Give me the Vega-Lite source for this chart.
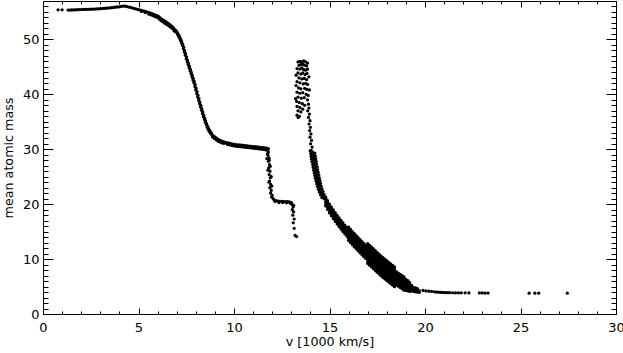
{
"$schema": "https://vega.github.io/schema/vega-lite/v6.json",
"width": 573, "height": 313,
"autosize": {"type": "none"},
"padding": {"left": 43, "top": 1, "right": 7, "bottom": 39},
"background": "white",
"config": {
 "view": {"stroke": "#000", "strokeWidth": 1},
 "axis": {"domain": false, "grid": false, "tickColor": "#000", "tickWidth": 1, "labelFont": "DejaVu Sans", "labelFontSize": 13, "labelColor": "#000", "titleFont": "DejaVu Sans", "titleFontSize": 12.7, "titleFontWeight": "normal", "titleColor": "#000", "labelOverlap": false, "labelFlush": false}
},
"data": {"values": [
{"v":0.79,"m":55.4},{"v":1.0,"m":55.4},{"v":1.31,"m":55.35},{"v":1.4,"m":55.36},{"v":1.5,"m":55.37},{"v":1.6,"m":55.38},{"v":1.7,"m":55.4},{"v":1.8,"m":55.42},{"v":1.9,"m":55.44},{"v":2.0,"m":55.45},{"v":2.1,"m":55.46},{"v":2.2,"m":55.47},{"v":2.3,"m":55.48},{"v":2.4,"m":55.49},{"v":2.5,"m":55.5},{"v":2.6,"m":55.52},{"v":2.7,"m":55.54},{"v":2.8,"m":55.56},{"v":2.9,"m":55.58},{"v":3.0,"m":55.6},{"v":3.1,"m":55.63},{"v":3.2,"m":55.66},{"v":3.3,"m":55.69},{"v":3.4,"m":55.72},{"v":3.5,"m":55.75},{"v":3.6,"m":55.79},{"v":3.7,"m":55.83},{"v":3.8,"m":55.87},{"v":3.9,"m":55.91},{"v":4.0,"m":55.95},{"v":4.1,"m":56.02},{"v":4.2,"m":56.08},{"v":4.3,"m":56.05},{"v":4.4,"m":55.98},{"v":4.5,"m":55.9},{"v":4.6,"m":55.82},{"v":4.7,"m":55.72},{"v":4.8,"m":55.62},{"v":4.9,"m":55.52},{"v":5.0,"m":55.42},{"v":5.1,"m":55.34},{"v":5.2,"m":55.25},{"v":5.3,"m":55.15},{"v":5.4,"m":55.05},{"v":5.5,"m":54.95},{"v":5.6,"m":54.83},{"v":5.7,"m":54.7},{"v":5.8,"m":54.57},{"v":5.9,"m":54.43},{"v":6.0,"m":54.28},
{"v":5.15,"m":55.1},{"v":5.35,"m":54.9},{"v":5.55,"m":54.6},{"v":5.65,"m":54.48},{"v":5.75,"m":54.35},{"v":5.85,"m":54.2},{"v":5.95,"m":54.05},
{"v":6.05,"m":54.15},{"v":6.1,"m":54.0},{"v":6.15,"m":53.85},{"v":6.2,"m":53.72},{"v":6.25,"m":53.6},{"v":6.3,"m":53.5},{"v":6.35,"m":53.38},{"v":6.4,"m":53.27},{"v":6.45,"m":53.15},{"v":6.5,"m":53.03},{"v":6.55,"m":52.92},{"v":6.6,"m":52.8},{"v":6.65,"m":52.65},{"v":6.7,"m":52.5},{"v":6.75,"m":52.35},{"v":6.8,"m":52.2},{"v":6.85,"m":51.98},
{"v":6.075,"m":53.73},{"v":6.175,"m":53.43},{"v":6.275,"m":53.2},{"v":6.375,"m":52.97},{"v":6.475,"m":52.74},{"v":6.575,"m":52.5},{"v":6.675,"m":52.23},{"v":6.775,"m":51.93},{"v":6.875,"m":51.5},
{"v":6.9,"m":51.75},{"v":6.965,"m":51.61},{"v":6.95,"m":51.48},{"v":7.015,"m":51.34},{"v":7.0,"m":51.2},{"v":7.065,"m":51.05},{"v":7.05,"m":50.9},{"v":7.115,"m":50.75},{"v":7.1,"m":50.6},{"v":7.165,"m":50.4},{"v":7.15,"m":50.2},{"v":7.215,"m":50.0},{"v":7.2,"m":49.8},{"v":7.265,"m":49.58},{"v":7.25,"m":49.35},{"v":7.315,"m":49.13},{"v":7.3,"m":48.9},{"v":7.365,"m":48.6},{"v":7.35,"m":48.3},{"v":7.415,"m":48.0},{"v":7.4,"m":47.7},{"v":7.465,"m":47.4},{"v":7.45,"m":47.1},{"v":7.515,"m":46.8},{"v":7.5,"m":46.5},{"v":7.565,"m":46.23},{"v":7.55,"m":45.95},{"v":7.615,"m":45.68},{"v":7.6,"m":45.4},{"v":7.665,"m":45.13},{"v":7.65,"m":44.85},{"v":7.715,"m":44.58},{"v":7.7,"m":44.3},{"v":7.765,"m":44.03},{"v":7.75,"m":43.75},{"v":7.815,"m":43.48},{"v":7.8,"m":43.2},{"v":7.865,"m":42.93},{"v":7.85,"m":42.65},{"v":7.915,"m":42.38},{"v":7.9,"m":42.1},{"v":7.965,"m":41.78},{"v":7.95,"m":41.45},{"v":8.015,"m":41.13},{"v":8.0,"m":40.8},{"v":8.065,"m":40.48},{"v":8.05,"m":40.15},{"v":8.115,"m":39.83},{"v":8.1,"m":39.5},{"v":8.165,"m":39.2},{"v":8.15,"m":38.9},{"v":8.215,"m":38.6},{"v":8.2,"m":38.3},{"v":8.265,"m":38.0},{"v":8.25,"m":37.7},{"v":8.315,"m":37.4},{"v":8.3,"m":37.1},{"v":8.365,"m":36.8},{"v":8.35,"m":36.5},{"v":8.415,"m":36.2},{"v":8.4,"m":35.9},{"v":8.465,"m":35.65},{"v":8.45,"m":35.4},{"v":8.515,"m":35.15},{"v":8.5,"m":34.9},{"v":8.565,"m":34.68},{"v":8.55,"m":34.45},{"v":8.615,"m":34.23},{"v":8.6,"m":34.0},{"v":8.665,"m":33.83},{"v":8.65,"m":33.65},{"v":8.715,"m":33.48},{"v":8.7,"m":33.3},{"v":8.765,"m":33.18},{"v":8.75,"m":33.05},{"v":8.815,"m":32.93},{"v":8.8,"m":32.8},
{"v":8.85,"m":32.62},{"v":8.9,"m":32.5},{"v":8.95,"m":32.35},{"v":9.0,"m":32.2},{"v":9.05,"m":32.08},{"v":9.1,"m":31.95},{"v":9.15,"m":31.82},{"v":9.2,"m":31.7},{"v":9.25,"m":31.63},{"v":9.3,"m":31.55},{"v":9.35,"m":31.48},{"v":9.4,"m":31.4},{"v":9.45,"m":31.35},{"v":9.5,"m":31.3},
{"v":8.875,"m":32.25},{"v":8.975,"m":31.95},{"v":9.075,"m":31.7},{"v":9.175,"m":31.45},{"v":9.275,"m":31.3},{"v":9.375,"m":31.15},{"v":9.475,"m":31.05},
{"v":9.6,"m":31.2},{"v":9.7,"m":31.15},{"v":9.8,"m":31.08},{"v":9.9,"m":31.0},{"v":10.0,"m":30.9},{"v":10.1,"m":30.86},{"v":10.2,"m":30.82},{"v":10.3,"m":30.78},{"v":10.4,"m":30.74},{"v":10.5,"m":30.7},{"v":10.6,"m":30.66},{"v":10.7,"m":30.62},{"v":10.8,"m":30.58},{"v":10.9,"m":30.54},{"v":11.0,"m":30.5},{"v":11.1,"m":30.46},{"v":11.2,"m":30.42},{"v":11.3,"m":30.38},{"v":11.4,"m":30.34},{"v":11.5,"m":30.3},{"v":11.6,"m":30.25},{"v":11.7,"m":30.2},{"v":11.8,"m":30.1},
{"v":9.65,"m":30.88},{"v":9.75,"m":30.8},{"v":9.85,"m":30.74},{"v":9.95,"m":30.65},{"v":10.05,"m":30.58},{"v":10.15,"m":30.54},{"v":10.25,"m":30.5},{"v":10.35,"m":30.46},{"v":10.45,"m":30.42},{"v":10.55,"m":30.38},{"v":10.65,"m":30.34},{"v":10.75,"m":30.3},{"v":10.85,"m":30.26},{"v":10.95,"m":30.22},{"v":11.05,"m":30.18},{"v":11.15,"m":30.14},{"v":11.25,"m":30.1},{"v":11.35,"m":30.06},{"v":11.45,"m":30.02},{"v":11.55,"m":29.96},{"v":11.65,"m":29.9},{"v":11.75,"m":29.8},
{"v":11.8,"m":29.5},{"v":11.78,"m":28.9},{"v":11.84,"m":28.4},{"v":11.8,"m":27.8},{"v":11.86,"m":27.2},{"v":11.82,"m":26.6},{"v":11.88,"m":26.0},{"v":11.84,"m":25.4},{"v":11.9,"m":24.8},{"v":11.86,"m":24.2},{"v":11.92,"m":23.6},{"v":11.88,"m":23.0},{"v":11.95,"m":22.5},{"v":11.92,"m":22.0},{"v":12.0,"m":21.6},{"v":11.97,"m":21.3},{"v":12.05,"m":21.0},{"v":11.75,"m":29.2},{"v":11.85,"m":28.0},{"v":11.9,"m":26.9},{"v":11.95,"m":25.0},{"v":11.98,"m":23.3},{"v":11.72,"m":28.3},{"v":11.78,"m":26.2},{"v":11.83,"m":24.0},
{"v":12.1,"m":20.8},{"v":12.2,"m":20.65},{"v":12.3,"m":20.55},{"v":12.4,"m":20.5},{"v":12.5,"m":20.5},{"v":12.6,"m":20.48},{"v":12.7,"m":20.45},{"v":12.8,"m":20.45},{"v":12.9,"m":20.4},{"v":13.0,"m":20.3},{"v":12.15,"m":20.5},{"v":12.35,"m":20.3},{"v":12.55,"m":20.3},{"v":12.75,"m":20.25},{"v":12.95,"m":20.15},
{"v":13.05,"m":19.9},{"v":13.1,"m":19.5},{"v":13.05,"m":19.0},{"v":13.12,"m":18.6},{"v":13.08,"m":18.0},{"v":13.15,"m":17.3},{"v":13.1,"m":16.6},{"v":13.15,"m":15.6},{"v":13.2,"m":14.3},{"v":13.28,"m":14.1},{"v":13.12,"m":19.8},
{"v":13.35,"m":45.9},{"v":13.45,"m":46.0},{"v":13.55,"m":45.9},{"v":13.65,"m":46.1},{"v":13.75,"m":45.9},{"v":13.85,"m":45.7},{"v":13.4,"m":45.3},{"v":13.5,"m":45.4},{"v":13.6,"m":45.5},{"v":13.7,"m":45.3},{"v":13.8,"m":45.2},{"v":13.3,"m":44.7},{"v":13.45,"m":44.6},{"v":13.55,"m":44.8},{"v":13.65,"m":44.5},{"v":13.75,"m":44.4},{"v":13.85,"m":44.6},{"v":13.35,"m":43.9},{"v":13.5,"m":43.7},{"v":13.6,"m":43.9},{"v":13.72,"m":43.6},{"v":13.82,"m":43.8},{"v":13.4,"m":43.0},{"v":13.55,"m":42.8},{"v":13.68,"m":42.9},{"v":13.8,"m":42.7},{"v":13.3,"m":42.3},{"v":13.45,"m":42.1},{"v":13.62,"m":41.9},{"v":13.75,"m":42.0},{"v":13.85,"m":41.8},{"v":13.38,"m":41.2},{"v":13.5,"m":41.0},{"v":13.7,"m":41.1},{"v":13.82,"m":40.9},{"v":13.3,"m":40.4},{"v":13.45,"m":40.2},{"v":13.6,"m":40.3},{"v":13.78,"m":40.0},{"v":13.88,"m":39.8},{"v":13.35,"m":39.5},{"v":13.52,"m":39.3},{"v":13.68,"m":39.4},{"v":13.85,"m":39.0},{"v":13.28,"m":38.7},{"v":13.42,"m":38.5},{"v":13.58,"m":38.3},{"v":13.9,"m":38.2},{"v":13.3,"m":37.8},{"v":13.45,"m":37.6},{"v":13.35,"m":37.0},{"v":13.5,"m":36.8},{"v":13.3,"m":36.2},{"v":13.42,"m":36.0},{"v":13.36,"m":35.8},{"v":13.25,"m":43.5},{"v":13.25,"m":41.6},{"v":13.22,"m":39.2},{"v":13.6,"m":37.3},{"v":13.7,"m":38.0},{"v":13.92,"m":43.2},{"v":13.95,"m":40.8},
{"v":13.92,"m":37.5},{"v":13.86,"m":37.0},{"v":13.95,"m":36.4},{"v":13.9,"m":35.8},{"v":13.98,"m":35.2},{"v":13.93,"m":34.6},{"v":14.0,"m":34.0},{"v":13.96,"m":33.4},{"v":14.03,"m":32.8},{"v":13.98,"m":32.2},{"v":14.06,"m":31.6},{"v":14.01,"m":31.0},{"v":14.09,"m":30.4},{"v":14.04,"m":29.8},
{"v":13.99,"m":29.7},{"v":14.11,"m":29.5},{"v":14.23,"m":29.3},{"v":14.02,"m":29.2},{"v":14.14,"m":29.0},{"v":14.26,"m":28.8},{"v":14.04,"m":28.7},{"v":14.16,"m":28.5},{"v":14.28,"m":28.3},{"v":14.06,"m":28.2},{"v":14.18,"m":28.0},{"v":14.3,"m":27.8},{"v":14.08,"m":27.7},{"v":14.2,"m":27.5},{"v":14.32,"m":27.3},{"v":14.12,"m":27.2},{"v":14.24,"m":27.0},{"v":14.36,"m":26.8},{"v":14.14,"m":26.7},{"v":14.26,"m":26.5},{"v":14.38,"m":26.3},{"v":14.17,"m":26.2},{"v":14.29,"m":26.0},{"v":14.41,"m":25.8},{"v":14.2,"m":25.7},{"v":14.32,"m":25.5},{"v":14.44,"m":25.3},{"v":14.23,"m":25.2},{"v":14.35,"m":25.0},{"v":14.47,"m":24.8},{"v":14.26,"m":24.7},{"v":14.38,"m":24.5},{"v":14.5,"m":24.3},{"v":14.29,"m":24.2},{"v":14.41,"m":24.0},{"v":14.53,"m":23.8},{"v":14.33,"m":23.7},{"v":14.45,"m":23.5},{"v":14.57,"m":23.3},{"v":14.37,"m":23.2},{"v":14.49,"m":23.0},{"v":14.61,"m":22.8},{"v":14.42,"m":22.7},{"v":14.54,"m":22.5},{"v":14.66,"m":22.3},{"v":14.47,"m":22.2},{"v":14.59,"m":22.0},{"v":14.71,"m":21.8},{"v":14.53,"m":21.7},{"v":14.65,"m":21.5},{"v":14.77,"m":21.3},{"v":14.6,"m":21.2},{"v":14.72,"m":21.0},{"v":14.84,"m":20.8},
{"v":14.8,"m":19.68},{"v":14.8,"m":20.08},{"v":14.8,"m":20.48},{"v":14.8,"m":20.88},{"v":14.8,"m":21.28},
{"v":14.9,"m":19.04},{"v":14.9,"m":19.44},{"v":14.9,"m":19.84},{"v":14.9,"m":20.24},{"v":14.9,"m":20.64},
{"v":15.0,"m":18.4},{"v":15.0,"m":18.8},{"v":15.0,"m":19.2},{"v":15.0,"m":19.6},{"v":15.0,"m":20.0},
{"v":15.1,"m":17.88},{"v":15.1,"m":18.28},{"v":15.1,"m":18.68},{"v":15.1,"m":19.08},{"v":15.1,"m":19.48},
{"v":15.2,"m":17.36},{"v":15.2,"m":17.76},{"v":15.2,"m":18.16},{"v":15.2,"m":18.56},{"v":15.2,"m":18.96},
{"v":15.3,"m":16.86},{"v":15.3,"m":17.26},{"v":15.3,"m":17.66},{"v":15.3,"m":18.06},{"v":15.3,"m":18.46},
{"v":15.4,"m":16.38},{"v":15.4,"m":16.78},{"v":15.4,"m":17.18},{"v":15.4,"m":17.58},{"v":15.4,"m":17.98},
{"v":15.5,"m":15.9},{"v":15.5,"m":16.3},{"v":15.5,"m":16.7},{"v":15.5,"m":17.1},{"v":15.5,"m":17.5},
{"v":15.6,"m":15.46},{"v":15.6,"m":15.86},{"v":15.6,"m":16.26},{"v":15.6,"m":16.66},{"v":15.6,"m":17.06},
{"v":15.7,"m":15.02},{"v":15.7,"m":15.42},{"v":15.7,"m":15.82},{"v":15.7,"m":16.22},{"v":15.7,"m":16.62},
{"v":15.8,"m":14.6},{"v":15.8,"m":15.0},{"v":15.8,"m":15.4},{"v":15.8,"m":15.8},{"v":15.8,"m":16.2},
{"v":15.9,"m":14.2},{"v":15.9,"m":14.6},{"v":15.9,"m":15.0},{"v":15.9,"m":15.4},{"v":15.9,"m":15.8},
{"v":16.0,"m":13.4},{"v":16.0,"m":13.8},{"v":16.0,"m":14.2},{"v":16.0,"m":14.6},{"v":16.0,"m":15.0},{"v":16.0,"m":15.4},{"v":16.0,"m":15.8},
{"v":16.1,"m":13.0},{"v":16.1,"m":13.4},{"v":16.1,"m":13.8},{"v":16.1,"m":14.2},{"v":16.1,"m":14.6},{"v":16.1,"m":15.0},{"v":16.1,"m":15.4},
{"v":16.2,"m":12.6},{"v":16.2,"m":13.0},{"v":16.2,"m":13.4},{"v":16.2,"m":13.8},{"v":16.2,"m":14.2},{"v":16.2,"m":14.6},{"v":16.2,"m":15.0},
{"v":16.3,"m":12.22},{"v":16.3,"m":12.62},{"v":16.3,"m":13.02},{"v":16.3,"m":13.42},{"v":16.3,"m":13.82},{"v":16.3,"m":14.22},{"v":16.3,"m":14.62},
{"v":16.4,"m":11.86},{"v":16.4,"m":12.26},{"v":16.4,"m":12.66},{"v":16.4,"m":13.06},{"v":16.4,"m":13.46},{"v":16.4,"m":13.86},{"v":16.4,"m":14.26},
{"v":16.5,"m":11.5},{"v":16.5,"m":11.9},{"v":16.5,"m":12.3},{"v":16.5,"m":12.7},{"v":16.5,"m":13.1},{"v":16.5,"m":13.5},{"v":16.5,"m":13.9},
{"v":16.6,"m":11.14},{"v":16.6,"m":11.54},{"v":16.6,"m":11.94},{"v":16.6,"m":12.34},{"v":16.6,"m":12.74},{"v":16.6,"m":13.14},{"v":16.6,"m":13.54},
{"v":16.7,"m":10.78},{"v":16.7,"m":11.18},{"v":16.7,"m":11.58},{"v":16.7,"m":11.98},{"v":16.7,"m":12.38},{"v":16.7,"m":12.78},{"v":16.7,"m":13.18},
{"v":16.8,"m":10.44},{"v":16.8,"m":10.84},{"v":16.8,"m":11.24},{"v":16.8,"m":11.64},{"v":16.8,"m":12.04},{"v":16.8,"m":12.44},{"v":16.8,"m":12.84},
{"v":16.9,"m":10.12},{"v":16.9,"m":10.52},{"v":16.9,"m":10.92},{"v":16.9,"m":11.32},{"v":16.9,"m":11.72},{"v":16.9,"m":12.12},{"v":16.9,"m":12.52},
{"v":17.0,"m":9.2},{"v":17.0,"m":9.6},{"v":17.0,"m":10.0},{"v":17.0,"m":10.4},{"v":17.0,"m":10.8},{"v":17.0,"m":11.2},{"v":17.0,"m":11.6},{"v":17.0,"m":12.0},{"v":17.0,"m":12.4},{"v":17.0,"m":12.8},
{"v":17.1,"m":8.88},{"v":17.1,"m":9.28},{"v":17.1,"m":9.68},{"v":17.1,"m":10.08},{"v":17.1,"m":10.48},{"v":17.1,"m":10.88},{"v":17.1,"m":11.28},{"v":17.1,"m":11.68},{"v":17.1,"m":12.08},{"v":17.1,"m":12.48},
{"v":17.2,"m":8.56},{"v":17.2,"m":8.96},{"v":17.2,"m":9.36},{"v":17.2,"m":9.76},{"v":17.2,"m":10.16},{"v":17.2,"m":10.56},{"v":17.2,"m":10.96},{"v":17.2,"m":11.36},{"v":17.2,"m":11.76},{"v":17.2,"m":12.16},
{"v":17.3,"m":8.24},{"v":17.3,"m":8.64},{"v":17.3,"m":9.04},{"v":17.3,"m":9.44},{"v":17.3,"m":9.84},{"v":17.3,"m":10.24},{"v":17.3,"m":10.64},{"v":17.3,"m":11.04},{"v":17.3,"m":11.44},{"v":17.3,"m":11.84},
{"v":17.4,"m":7.92},{"v":17.4,"m":8.32},{"v":17.4,"m":8.72},{"v":17.4,"m":9.12},{"v":17.4,"m":9.52},{"v":17.4,"m":9.92},{"v":17.4,"m":10.32},{"v":17.4,"m":10.72},{"v":17.4,"m":11.12},{"v":17.4,"m":11.52},
{"v":17.5,"m":7.6},{"v":17.5,"m":8.0},{"v":17.5,"m":8.4},{"v":17.5,"m":8.8},{"v":17.5,"m":9.2},{"v":17.5,"m":9.6},{"v":17.5,"m":10.0},{"v":17.5,"m":10.4},{"v":17.5,"m":10.8},{"v":17.5,"m":11.2},
{"v":17.6,"m":7.28},{"v":17.6,"m":7.68},{"v":17.6,"m":8.08},{"v":17.6,"m":8.48},{"v":17.6,"m":8.88},{"v":17.6,"m":9.28},{"v":17.6,"m":9.68},{"v":17.6,"m":10.08},{"v":17.6,"m":10.48},{"v":17.6,"m":10.88},
{"v":17.7,"m":6.96},{"v":17.7,"m":7.36},{"v":17.7,"m":7.76},{"v":17.7,"m":8.16},{"v":17.7,"m":8.56},{"v":17.7,"m":8.96},{"v":17.7,"m":9.36},{"v":17.7,"m":9.76},{"v":17.7,"m":10.16},{"v":17.7,"m":10.56},
{"v":17.8,"m":6.66},{"v":17.8,"m":7.06},{"v":17.8,"m":7.46},{"v":17.8,"m":7.86},{"v":17.8,"m":8.26},{"v":17.8,"m":8.66},{"v":17.8,"m":9.06},{"v":17.8,"m":9.46},{"v":17.8,"m":9.86},{"v":17.8,"m":10.26},
{"v":17.9,"m":6.38},{"v":17.9,"m":6.78},{"v":17.9,"m":7.18},{"v":17.9,"m":7.58},{"v":17.9,"m":7.98},{"v":17.9,"m":8.38},{"v":17.9,"m":8.78},{"v":17.9,"m":9.18},{"v":17.9,"m":9.58},{"v":17.9,"m":9.98},
{"v":18.0,"m":6.1},{"v":18.0,"m":6.5},{"v":18.0,"m":6.9},{"v":18.0,"m":7.3},{"v":18.0,"m":7.7},{"v":18.0,"m":8.1},{"v":18.0,"m":8.5},{"v":18.0,"m":8.9},{"v":18.0,"m":9.3},{"v":18.0,"m":9.7},
{"v":18.1,"m":5.82},{"v":18.1,"m":6.22},{"v":18.1,"m":6.62},{"v":18.1,"m":7.02},{"v":18.1,"m":7.42},{"v":18.1,"m":7.82},{"v":18.1,"m":8.22},{"v":18.1,"m":8.62},{"v":18.1,"m":9.02},{"v":18.1,"m":9.42},
{"v":18.2,"m":5.54},{"v":18.2,"m":5.94},{"v":18.2,"m":6.34},{"v":18.2,"m":6.74},{"v":18.2,"m":7.14},{"v":18.2,"m":7.54},{"v":18.2,"m":7.94},{"v":18.2,"m":8.34},{"v":18.2,"m":8.74},{"v":18.2,"m":9.14},
{"v":18.3,"m":5.26},{"v":18.3,"m":5.66},{"v":18.3,"m":6.06},{"v":18.3,"m":6.46},{"v":18.3,"m":6.86},{"v":18.3,"m":7.26},{"v":18.3,"m":7.66},{"v":18.3,"m":8.06},{"v":18.3,"m":8.46},{"v":18.3,"m":8.86},
{"v":18.4,"m":4.98},{"v":18.4,"m":5.38},{"v":18.4,"m":5.78},{"v":18.4,"m":6.18},{"v":18.4,"m":6.58},{"v":18.4,"m":6.98},{"v":18.4,"m":7.38},{"v":18.4,"m":7.78},{"v":18.4,"m":8.18},{"v":18.4,"m":8.58},
{"v":18.5,"m":5.3},{"v":18.5,"m":5.7},{"v":18.5,"m":6.1},{"v":18.5,"m":6.5},{"v":18.5,"m":6.9},{"v":18.5,"m":7.3},{"v":18.5,"m":7.7},
{"v":18.6,"m":5.06},{"v":18.6,"m":5.46},{"v":18.6,"m":5.86},{"v":18.6,"m":6.26},{"v":18.6,"m":6.66},{"v":18.6,"m":7.06},{"v":18.6,"m":7.46},
{"v":18.7,"m":4.82},{"v":18.7,"m":5.22},{"v":18.7,"m":5.62},{"v":18.7,"m":6.02},{"v":18.7,"m":6.42},{"v":18.7,"m":6.82},{"v":18.7,"m":7.22},
{"v":18.8,"m":4.58},{"v":18.8,"m":4.98},{"v":18.8,"m":5.38},{"v":18.8,"m":5.78},{"v":18.8,"m":6.18},{"v":18.8,"m":6.58},{"v":18.8,"m":6.98},
{"v":18.9,"m":4.34},{"v":18.9,"m":4.74},{"v":18.9,"m":5.14},{"v":18.9,"m":5.54},{"v":18.9,"m":5.94},{"v":18.9,"m":6.34},{"v":18.9,"m":6.74},
{"v":19.0,"m":4.3},{"v":19.0,"m":4.7},{"v":19.0,"m":5.1},{"v":19.0,"m":5.5},{"v":19.0,"m":5.9},{"v":19.0,"m":6.3},
{"v":19.1,"m":4.2},{"v":19.1,"m":4.6},{"v":19.1,"m":5.0},{"v":19.1,"m":5.4},{"v":19.1,"m":5.8},{"v":19.1,"m":6.1},
{"v":19.2,"m":4.1},{"v":19.2,"m":4.5},{"v":19.2,"m":4.9},{"v":19.2,"m":5.3},{"v":19.2,"m":5.7},
{"v":19.3,"m":4.2},{"v":19.3,"m":4.55},{"v":19.3,"m":4.9},{"v":19.3,"m":5.2},
{"v":19.4,"m":4.1},{"v":19.4,"m":4.45},{"v":19.4,"m":4.8},
{"v":19.5,"m":4.05},{"v":19.5,"m":4.4},{"v":19.5,"m":4.75},
{"v":19.6,"m":4.0},{"v":19.6,"m":4.3},{"v":19.6,"m":4.6},
{"v":19.7,"m":3.95},{"v":19.7,"m":4.25},
{"v":19.9,"m":4.3},{"v":20.05,"m":4.2},{"v":20.2,"m":4.15},{"v":20.35,"m":4.1},{"v":20.5,"m":4.05},{"v":20.6,"m":4.0},{"v":20.7,"m":4.0},{"v":20.8,"m":3.95},{"v":20.9,"m":3.95},{"v":21.0,"m":3.9},{"v":21.1,"m":3.9},{"v":21.2,"m":3.9},{"v":21.3,"m":3.88},{"v":21.45,"m":3.87},{"v":21.6,"m":3.86},{"v":21.75,"m":3.85},{"v":21.9,"m":3.85},{"v":22.1,"m":3.85},{"v":22.3,"m":3.84},{"v":22.85,"m":3.83},{"v":23.0,"m":3.83},{"v":23.15,"m":3.82},{"v":23.3,"m":3.82},{"v":25.45,"m":3.8},{"v":25.75,"m":3.8},{"v":25.95,"m":3.8},{"v":27.45,"m":3.8}
]},
"layer": [
 {"mark": {"type": "point", "filled": true, "color": "#000", "size": 10.5, "opacity": 1, "strokeWidth": 0},
  "encoding": {
   "x": {"field": "v", "type": "quantitative", "scale": {"domain": [0, 30], "nice": false, "zero": false},
    "axis": {"orient": "bottom", "title": "v [1000 km/s]", "values": [0,1,2,3,4,5,6,7,8,9,10,11,12,13,14,15,16,17,18,19,20,21,22,23,24,25,26,27,28,29,30],
     "labelExpr": "datum.value % 5 === 0 ? datum.label : ''",
     "tickSize": {"condition": {"test": "datum.value % 5 === 0", "value": -6}, "value": -3},
     "labelPadding": 13, "titlePadding": -2}},
   "y": {"field": "m", "type": "quantitative", "scale": {"domain": [0, 57], "nice": false, "zero": false},
    "axis": {"orient": "left", "title": "mean atomic mass", "values": [0,1,2,3,4,5,6,7,8,9,10,11,12,13,14,15,16,17,18,19,20,21,22,23,24,25,26,27,28,29,30,31,32,33,34,35,36,37,38,39,40,41,42,43,44,45,46,47,48,49,50,51,52,53,54,55,56],
     "labelExpr": "datum.value % 10 === 0 ? datum.label : ''",
     "tickSize": {"condition": {"test": "datum.value % 10 === 0", "value": -10}, "value": -5},
     "labelPadding": 14, "titlePadding": 7}}
  }},
 {"mark": {"type": "point", "opacity": 0},
  "encoding": {
   "x": {"field": "v", "type": "quantitative", "scale": {"domain": [0, 30], "nice": false, "zero": false},
    "axis": {"orient": "top", "title": null, "labels": false, "values": [0,1,2,3,4,5,6,7,8,9,10,11,12,13,14,15,16,17,18,19,20,21,22,23,24,25,26,27,28,29,30],
     "tickSize": {"condition": {"test": "datum.value % 5 === 0", "value": -6}, "value": -3}}},
   "y": {"field": "m", "type": "quantitative", "scale": {"domain": [0, 57], "nice": false, "zero": false},
    "axis": {"orient": "right", "title": null, "labels": false, "values": [0,1,2,3,4,5,6,7,8,9,10,11,12,13,14,15,16,17,18,19,20,21,22,23,24,25,26,27,28,29,30,31,32,33,34,35,36,37,38,39,40,41,42,43,44,45,46,47,48,49,50,51,52,53,54,55,56],
     "tickSize": {"condition": {"test": "datum.value % 10 === 0", "value": -10}, "value": -5}}}
  }}
],
"resolve": {"axis": {"x": "independent", "y": "independent"}}
}
